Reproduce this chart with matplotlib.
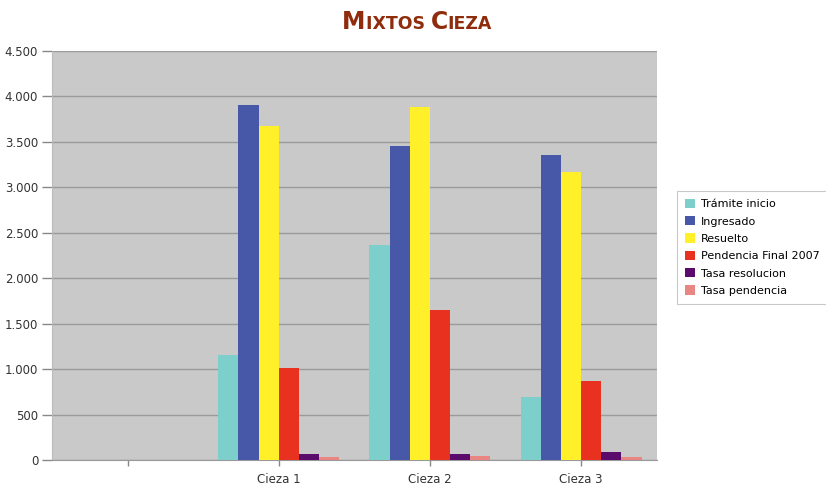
import matplotlib.pyplot as plt
import numpy as np
from matplotlib.offsetbox import TextArea, HPacker, AnchoredOffsetbox
from matplotlib.ticker import FuncFormatter

categories = ["", "Cieza 1", "Cieza 2", "Cieza 3"]
series = ["Trámite inicio", "Ingresado", "Resuelto", "Pendencia Final 2007",
          "Tasa resolucion", "Tasa pendencia"]
tramite = [np.nan, 1155, 2365, 693]
ingresado = [np.nan, 3905, 3454, 3355]
resuelto = [np.nan, 3674, 3883, 3168]
pendencia = [np.nan, 1012, 1650, 869]
tasa_res = [np.nan, 66, 66, 88]
tasa_pend = [np.nan, 33, 44, 33]
colors = ["#7dcfcb", "#4858a8", "#fff02a", "#e8321f", "#5a0b6c", "#e98582"]

values = [tramite, ingresado, resuelto, pendencia, tasa_res, tasa_pend]

fig = plt.figure(figsize=(8.26, 4.86), dpi=100)
ax = fig.add_axes([0.063, 0.0535, 0.732, 0.8415])
ax.set_facecolor("#c8c9c8")

x = np.arange(len(categories))
width = 0.8 / len(series)
for i, (name, vals) in enumerate(zip(series, values)):
    ax.bar(x - 0.4 + width * (i + 0.5), vals, width, color=colors[i],
           label=name, zorder=3, edgecolor="none")

ax.set_xlim(-0.5, len(categories) - 0.5)
ax.set_ylim(0, 4500)
ax.set_yticks(np.arange(0, 4501, 500))
ax.yaxis.set_major_formatter(FuncFormatter(lambda v, p: f"{int(v):,}".replace(",", ".")))
ax.set_xticks(x)
ax.set_xticklabels(categories)
ax.grid(axis="y", color="#9b9b9b", linewidth=1, zorder=1)
for s in ["top", "right"]:
    ax.spines[s].set_visible(False)
ax.spines["left"].set_color("#bbbbbb")
ax.spines["bottom"].set_color("#999999")
ax.tick_params(axis="both", colors="#888888", labelcolor="#333333", labelsize=8.5,
               width=1)
ax.tick_params(axis="y", length=7, pad=3)
ax.tick_params(axis="x", length=4.5, pad=5)

leg = ax.legend(loc="center left", bbox_to_anchor=(1.025, 0.52), fontsize=8,
                frameon=True, fancybox=False, edgecolor="#bbbbbb",
                handlelength=0.9, handleheight=0.9, handletextpad=0.5,
                labelspacing=0.62, borderpad=0.7)
leg.get_frame().set_linewidth(0.8)

# small caps title
tc = "#8e2c0c"
parts = [("M", 17), ("IXTOS ", 12.5), ("C", 17), ("IEZA", 12.5)]
boxes = [TextArea(t, textprops=dict(size=s, color=tc, weight="bold",
                                    family="DejaVu Sans")) for t, s in parts]
title = HPacker(children=boxes, align="baseline", pad=0, sep=0)
anch = AnchoredOffsetbox(loc="center", child=title, frameon=False,
                         bbox_to_anchor=(0.505, 0.955),
                         bbox_transform=fig.transFigure, pad=0, borderpad=0)
fig.add_artist(anch)

plt.savefig("out.png", dpi=100)
